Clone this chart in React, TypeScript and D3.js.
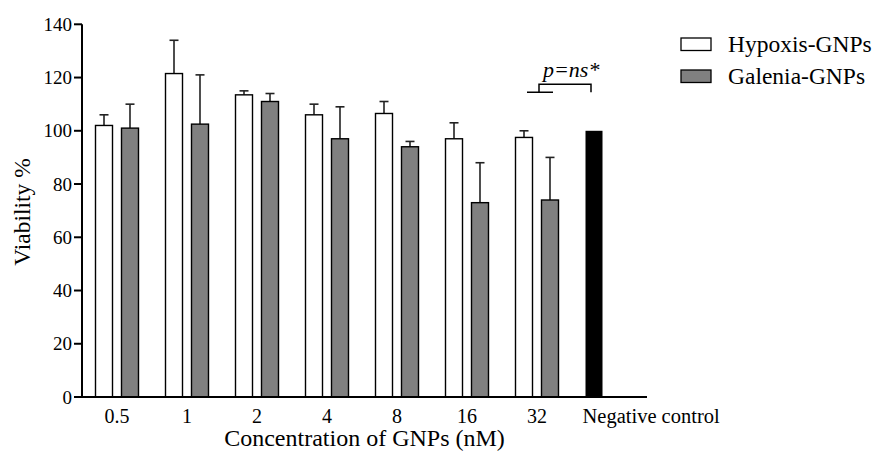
import React from 'react'
import { scaleBand, scaleLinear } from 'd3'

// groups on the x axis
const groups = ['0.5', '1', '2', '4', '8', '16', '32', 'Negative control']
const seriesNames = ['Hypoxis-GNPs', 'Galenia-GNPs']
const seriesFill = ['#ffffff', '#808080']

// mean viability %
const hypoxis = [102, 121.5, 113.5, 106, 106.5, 97, 97.5]
const galenia = [101, 102.5, 111, 97, 94, 73, 74]
// top of the error bar
const hypoxisErr = [106, 134, 115, 110, 111, 103, 100]
const galeniaErr = [110, 121, 114, 109, 96, 88, 90]
const negativeControl = 100

const yTicks = [0, 20, 40, 60, 80, 100, 120, 140]

const FONT = 'Liberation Serif'

const App = () => {
    const width = 875
    const height = 453

    const x = scaleBand().domain(groups).range([82, 642]).paddingInner(0).paddingOuter(0)
    const sub = scaleBand().domain(seriesNames).range([13.5, 56.5]).paddingInner(0.346)
    const y = scaleLinear().domain([0, 140]).range([397, 24.3])

    const series = [
        { name: seriesNames[0], values: hypoxis, err: hypoxisErr, fill: seriesFill[0] },
        { name: seriesNames[1], values: galenia, err: galeniaErr, fill: seriesFill[1] },
    ]
    const bw = sub.bandwidth()

    // negative control sits in the first slot of its group
    const ncX = (x('Negative control') as number) + (sub(seriesNames[0]) as number)

    // bracket over "32" to the negative control
    const g32 = (x('32') as number) + x.bandwidth() / 2
    const bTop = y(117.5)
    const bLow = y(114.5)

    return (
        <svg width={width} height={height}
            style={{ position: 'absolute', left: 0, top: 0, display: 'block', fontFamily: FONT }}>
            <style>{`text, tspan { font-family: "Liberation Serif", Tinos, "Times New Roman", Times, serif; }`}</style>
            <rect width={width} height={height} fill="#fff" />

            {series.map((s) =>
                s.values.map((v, i) => {
                    const bx = (x(groups[i]) as number) + (sub(s.name) as number)
                    const cx = bx + bw / 2
                    return (
                        <g key={s.name + i}>
                            <line x1={cx} x2={cx} y1={y(v)} y2={y(s.err[i])} stroke="#222" strokeWidth={1.6} />
                            <line x1={cx - 4.5} x2={cx + 4.5} y1={y(s.err[i])} y2={y(s.err[i])} stroke="#222" strokeWidth={1.6} />
                            <rect x={bx} y={y(v)} width={bw} height={y(0) - y(v)} fill={s.fill} stroke="#000" strokeWidth={1.4} />
                        </g>
                    )
                })
            )}
            <rect x={ncX} y={y(negativeControl)} width={bw} height={y(0) - y(negativeControl)} fill="#000" />

            {/* y axis */}
            <line x1={82} x2={82} y1={y(0) + 1} y2={y(140)} stroke="#000" strokeWidth={2} />
            {yTicks.map((t) => (
                <g key={t}>
                    <line x1={74} x2={82} y1={y(t)} y2={y(t)} stroke="#000" strokeWidth={2} />
                    <text x={72} y={y(t) + 6.5} textAnchor="end" fontSize={19} fontFamily={FONT}>{String(t)}</text>
                </g>
            ))}
            {/* x axis */}
            <line x1={81} x2={647} y1={y(0)} y2={y(0)} stroke="#000" strokeWidth={2} />
            {groups.map((g) =>
                g === 'Negative control' ? (
                    <text key={g} x={ncX - 3} y={423} textAnchor="start" fontSize={20.5} fontFamily={FONT}>{g}</text>
                ) : (
                    <text key={g} x={(x(g) as number) + x.bandwidth() / 2} y={423} textAnchor="middle" fontSize={20} fontFamily={FONT}>{g}</text>
                )
            )}

            <text x={364.5} y={446} textAnchor="middle" fontSize={24} fontFamily={FONT}>Concentration of GNPs (nM)</text>
            <text transform="translate(30,212) rotate(-90)" textAnchor="middle" fontSize={23.5} fontFamily={FONT}>Viability %</text>

            {/* significance bracket */}
            <path d={`M${g32 - 10},${bLow}H${g32 + 16}M${g32 + 2},${bLow}V${bTop}H${ncX + bw / 2 - 3}V${bLow}`} fill="none" stroke="#000" strokeWidth={1.5} />
            <text x={543} y={77} fontSize={22} fontFamily={FONT}>
                <tspan fontStyle="italic">p=ns</tspan>
                <tspan dx={1}>*</tspan>
            </text>

            {/* legend */}
            {seriesNames.map((n, i) => (
                <g key={n} transform={`translate(681,${38 + i * 32})`}>
                    <rect width={30} height={12.5} fill={seriesFill[i]} stroke="#000" strokeWidth={1.3} />
                    <text x={47} y={14} fontSize={23.5} fontFamily={FONT}>{n}</text>
                </g>
            ))}
        </svg>
    )
}

export default App
